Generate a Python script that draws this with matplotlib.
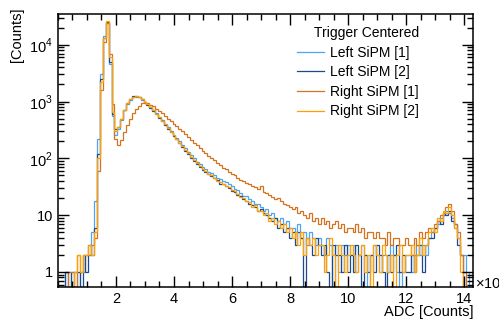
import numpy as np
import matplotlib
matplotlib.use("Agg")
import matplotlib.pyplot as plt
from matplotlib.ticker import FixedLocator, MultipleLocator, LogLocator, NullFormatter, FixedFormatter

plt.rcParams['font.family'] = ['Liberation Sans', 'DejaVu Sans']
plt.rcParams['mathtext.fontset'] = 'custom'
plt.rcParams['mathtext.rm'] = 'Liberation Sans'
plt.rcParams['font.size'] = 10.5

# bin edges in ADC counts (x10^3), bin centres 0.1 ... 14.1
edges = np.linspace(0.05, 14.15, 142)

# Left SiPM [1]
left1 = [0, 0, 1, 1, 0, 1, 0, 1, 1, 2,
         2, 5, 18, 220, 3000, 14000, 24000, 4500, 550, 260,
         330, 480, 700, 900, 1080, 1180, 1220, 1180, 1080, 980,
         890, 800, 700, 620, 540, 470, 410, 350, 300, 260,
         225, 200, 172, 150, 128, 115, 100, 88, 80, 70,
         66, 58, 56, 50, 46, 44, 40, 38, 35, 33,
         29, 28, 25, 22, 22, 19, 18, 16, 16, 14,
         12, 13, 10, 11, 9, 8, 9, 7, 8, 6,
         6, 5, 7, 4, 5, 3, 5, 4, 3, 4,
         3, 2, 4, 3, 0, 3, 1, 3, 2, 3,
         2, 3, 1, 2, 3, 2, 0, 2, 3, 2,
         1, 2, 2, 1, 3, 2, 1, 0, 1, 2,
         2, 1, 2, 3, 2, 3, 2, 4, 5, 6,
         7, 9, 10, 12, 11, 9, 6, 4, 2, 2,
         1]
# Left SiPM [2]
left2 = [0, 0, 1, 0, 1, 1, 1, 0, 2, 1,
         3, 2, 6, 120, 2500, 13000, 25000, 5000, 600, 330,
         360, 500, 720, 950, 1120, 1230, 1250, 1200, 1090, 990,
         880, 780, 690, 600, 520, 450, 390, 330, 290, 245,
         215, 185, 160, 135, 120, 100, 90, 78, 70, 62,
         58, 52, 48, 45, 42, 36, 36, 32, 30, 27,
         26, 23, 22, 19, 18, 16, 15, 14, 12, 13,
         11, 10, 9, 8, 9, 6, 7, 5, 6, 4,
         5, 3, 5, 4, 0, 4, 3, 2, 4, 3,
         2, 3, 1, 0, 3, 2, 2, 1, 3, 1,
         2, 1, 3, 2, 0, 2, 1, 2, 1, 3,
         2, 1, 0, 2, 1, 2, 3, 1, 2, 1,
         1, 2, 1, 2, 3, 1, 3, 4, 4, 6,
         8, 7, 11, 10, 12, 8, 7, 3, 2, 0,
         0]
# Right SiPM [1]
right1 = [0, 0, 0, 1, 1, 0, 2, 1, 2, 2,
          2, 3, 4, 60, 1600, 11000, 24000, 7000, 900, 220,
          175, 210, 290, 390, 500, 620, 740, 850, 930, 960,
          940, 880, 820, 750, 680, 620, 560, 500, 450, 410,
          370, 330, 300, 270, 240, 210, 190, 170, 150, 135,
          125, 110, 100, 92, 82, 75, 68, 64, 58, 54,
          50, 46, 42, 40, 37, 36, 33, 31, 29, 32,
          26, 25, 23, 21, 19, 20, 18, 16, 15, 14,
          13, 14, 11, 12, 10, 9, 11, 8, 9, 7,
          9, 7, 8, 6, 7, 8, 6, 7, 5, 6,
          6, 5, 7, 5, 6, 4, 5, 5, 4, 5,
          4, 4, 3, 5, 3, 4, 4, 3, 3, 4,
          3, 2, 4, 3, 5, 4, 5, 6, 5, 7,
          8, 10, 11, 14, 16, 12, 7, 5, 2, 1,
          0]
# Right SiPM [2]
right2 = [0, 0, 0, 0, 0, 1, 2, 1, 2, 2,
          3, 2, 5, 100, 2200, 13000, 26000, 6000, 650, 300,
          350, 490, 720, 940, 1110, 1220, 1260, 1220, 1110, 1000,
          900, 800, 700, 610, 530, 460, 400, 345, 295, 255,
          220, 190, 165, 140, 124, 105, 95, 82, 72, 65,
          60, 54, 50, 46, 40, 39, 35, 33, 31, 28,
          27, 24, 21, 20, 18, 17, 14, 15, 12, 12,
          10, 11, 8, 9, 7, 8, 6, 7, 5, 6,
          4, 5, 3, 5, 2, 4, 3, 4, 2, 3,
          3, 1, 2, 4, 2, 0, 3, 2, 1, 2,
          3, 2, 1, 2, 3, 1, 2, 0, 3, 2,
          1, 3, 2, 1, 2, 0, 2, 3, 1, 2,
          2, 3, 1, 2, 4, 2, 3, 5, 6, 5,
          9, 8, 12, 11, 14, 10, 6, 4, 1, 0,
          0]

series = [left1, left2, right1, right2]
names = ['Left SiPM [1]', 'Left SiPM [2]', 'Right SiPM [1]', 'Right SiPM [2]']
colors = ['#4fa3f0', '#1c4a8c', '#d4731f', '#ffa000']

fig = plt.figure(figsize=(4.99, 3.23), dpi=100)
ax = fig.add_axes([0.116, 0.111, 0.832, 0.846])

for vals, name, c in zip(series, names, colors):
    ax.stairs(np.array(vals, dtype=float), edges, color=c, lw=0.9, label=name)

ax.set_yscale('log', nonpositive='clip')
ax.set_xlim(0, 14.3)
ax.set_ylim(0.54, 35000)

# ROOT style ticks
ax.xaxis.set_major_locator(FixedLocator([2, 4, 6, 8, 10, 12, 14]))
ax.xaxis.set_minor_locator(MultipleLocator(0.5))
ax.yaxis.set_minor_locator(LogLocator(base=10, subs=np.arange(2, 10), numticks=20))
ax.yaxis.set_minor_formatter(NullFormatter())
ax.yaxis.set_major_locator(FixedLocator([1, 10, 100, 1000, 10000]))
ax.yaxis.set_major_formatter(FixedFormatter(['1', '10', r'10$^{2}$', r'10$^{3}$', r'10$^{4}$']))
ax.tick_params(which='both', direction='in', top=True, right=True, width=1.0, labelsize=10.5)
ax.tick_params(which='major', length=8)
ax.tick_params(which='minor', length=4)
for s in ax.spines.values():
    s.set_linewidth(1.1)

ax.set_xlabel('ADC [Counts]', loc='right')
ax.xaxis.set_label_coords(1.0, -0.065)
ax.set_ylabel('[Counts]', loc='top')
ax.yaxis.set_label_coords(-0.082, 1.025)
fig.text(475 / 499, 1 - 282 / 323, r'$\times$10$^{3}$', va='center', ha='left')

ax.legend(title='Trigger Centered', frameon=False, loc='upper left',
          bbox_to_anchor=(0.576, 0.955), borderpad=0, borderaxespad=0,
          handlelength=1.95, handletextpad=0.45, labelspacing=0.4,
          alignment='right', fontsize=10, title_fontsize=10)

fig.savefig('out.png', dpi=100)
